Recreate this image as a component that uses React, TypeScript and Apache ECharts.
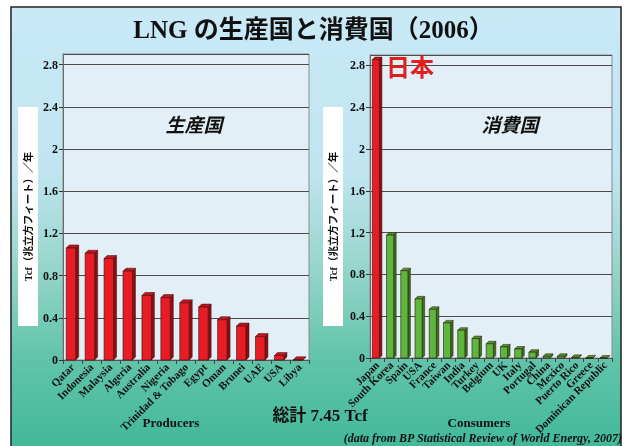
import React, { useEffect, useRef } from "react";
import * as echarts from "echarts";

// LNG exporters and importers, 2006 (Tcf per year)
const PRODUCERS = [
  "Qatar", "Indonesia", "Malaysia", "Algeria", "Australia", "Nigeria",
  "Trinidad & Tobago", "Egypt", "Oman", "Brunei", "UAE", "USA", "Libya",
];
const PRODUCER_VALUES = [1.09, 1.04, 0.99, 0.87, 0.64, 0.62, 0.57, 0.53, 0.41, 0.35, 0.25, 0.07, 0.03];

const CONSUMERS = [
  "Japan", "South Korea", "Spain", "USA", "France", "Taiwan", "India", "Turkey",
  "Belgium", "UK", "Italy", "Portugal", "China", "Mexico", "Puerto Rico", "Greece",
  "Dominican Republic",
];
const CONSUMER_VALUES = [2.88, 1.2, 0.86, 0.59, 0.49, 0.36, 0.29, 0.21, 0.16, 0.13, 0.11, 0.08, 0.04, 0.04, 0.03, 0.02, 0.015];

const Y_MIN = 0;
const Y_MAX = 2.9;
const Y_STEP = 0.4;
const HIGHLIGHT = "Japan";

const TITLE = "LNG の生産国と消費国（2006）";
const Y_NAME = "Tcf（兆立方フィート）／年";
const TOTAL_TEXT = "総計 7.45 Tcf";
const SOURCE_TEXT = "(data from BP Statistical Review of World Energy, 2007)";

const SERIF = "'Liberation Serif', 'Noto Sans CJK JP', serif";
const GOTHIC = "'Noto Sans CJK JP', 'Noto Sans', sans-serif";

const RED = { front: "#e81c24", side: "#8e0e12", top: "#c4161c" };
const GREEN = { front: "#5cb83c", side: "#2e7a1e", top: "#4a9c30" };

// Column with a small oblique depth; its back-top edge sits at the value
function make3dBar(categories: string[], palette: typeof RED, widthRatio: number, depth: number) {
  return (params: any, api: any) => {
    const idx = api.value(0);
    const val = api.value(1);
    const top = api.coord([idx, val]);
    const base = api.coord([idx, 0]);
    const bw = api.size([1, 0])[0] * widthRatio;
    const c = categories[idx] === HIGHLIGHT ? RED : palette;
    const x0 = top[0] - bw / 2 - depth / 2;
    const x1 = x0 + bw;
    const yFront = Math.min(top[1] + depth, base[1]);
    const yBack = yFront - depth;
    const yBase = base[1];
    const stroke = "#3a0a0a";
    return {
      type: "group",
      children: [
        {
          type: "polygon",
          shape: { points: [[x1, yFront], [x1 + depth, yBack], [x1 + depth, yBase - depth], [x1, yBase]] },
          style: { fill: c.side, stroke, lineWidth: 0.5 },
        },
        {
          type: "polygon",
          shape: { points: [[x0, yFront], [x0 + depth, yBack], [x1 + depth, yBack], [x1, yFront]] },
          style: { fill: c.top, stroke, lineWidth: 0.5 },
        },
        {
          type: "rect",
          shape: { x: x0, y: yFront, width: bw, height: yBase - yFront },
          style: { fill: c.front, stroke, lineWidth: 0.6 },
        },
      ],
    };
  };
}

function valueAxis(gridIndex: number) {
  return {
    gridIndex,
    type: "value",
    min: Y_MIN,
    max: Y_MAX,
    interval: Y_STEP,
    axisLine: { show: true, lineStyle: { color: "#6a6a6a", width: 1 } },
    axisTick: { show: true, length: 4, lineStyle: { color: "#333" } },
    axisLabel: {
      showMaxLabel: false,
      margin: 5,
      color: "#111",
      fontFamily: SERIF,
      fontWeight: "bold",
      fontSize: 12,
      formatter: (v: number) => String(+v.toFixed(1)),
    },
    splitLine: { show: true, lineStyle: { color: "#4c4c4c", width: 1 } },
  };
}

function categoryAxis(gridIndex: number, data: string[]) {
  return {
    gridIndex,
    type: "category",
    data,
    axisLine: { show: true, lineStyle: { color: "#555", width: 1 } },
    axisTick: { show: true, length: 4, lineStyle: { color: "#444" } },
    axisLabel: {
      interval: 0,
      rotate: 45,
      margin: 5,
      color: "#111",
      fontFamily: SERIF,
      fontWeight: "bold",
      fontSize: 11,
    },
    splitLine: { show: false },
  };
}

function yNameBox(x: number) {
  return [
    { type: "rect", shape: { x, y: 107, width: 20, height: 219 }, style: { fill: "#ffffff" }, z: 1 },
    {
      type: "text",
      x: x + 10,
      y: 216.5,
      rotation: Math.PI / 2,
      z: 2,
      style: {
        text: Y_NAME,
        fontFamily: SERIF,
        fontWeight: "bold",
        fontSize: 10.5,
        fill: "#111",
        align: "center",
        verticalAlign: "middle",
      },
    },
  ];
}

function label(text: string, x: number, y: number, style: any) {
  return {
    type: "text",
    x,
    y,
    z: 5,
    style: { text, fill: "#111", align: "center", verticalAlign: "middle", fontWeight: "bold", ...style },
  };
}

export default function App() {
  const ref = useRef<HTMLDivElement>(null);

  useEffect(() => {
    if (!ref.current) return;
    const chart = echarts.init(ref.current, null, { renderer: "svg" });

    const option: any = {
      animation: false,
      textStyle: { fontFamily: SERIF },
      title: {
        text: TITLE,
        left: "center",
        top: 12,
        textStyle: { fontFamily: SERIF, fontWeight: "bold", fontSize: 25, color: "#111" },
      },
      graphic: [
        {
          type: "rect",
          z: -100,
          shape: { x: 11, y: 7, width: 610, height: 460 },
          style: {
            fill: new echarts.graphic.LinearGradient(0, 0, 0, 1, [
              { offset: 0, color: "#c9e9f7" },
              { offset: 0.36, color: "#c0e5f0" },
              { offset: 0.56, color: "#98d6cc" },
              { offset: 0.76, color: "#62c4aa" },
              { offset: 1, color: "#3bb695" },
            ]),
            stroke: "#222",
            lineWidth: 1.5,
          },
        },
        ...yNameBox(18),
        ...yNameBox(323),
        label("生産国", 194, 123, { fontFamily: GOTHIC, fontStyle: "italic", fontSize: 19 }),
        label("消費国", 510, 123, { fontFamily: GOTHIC, fontStyle: "italic", fontSize: 19 }),
        label("日本", 386, 65, { fontFamily: GOTHIC, fontSize: 24, fill: "#e02020", align: "left" }),
        label("Producers", 171, 422, { fontFamily: SERIF, fontSize: 13 }),
        label("Consumers", 479, 422, { fontFamily: SERIF, fontSize: 13 }),
        label(TOTAL_TEXT, 320, 415, { fontFamily: SERIF, fontSize: 17 }),
        label(SOURCE_TEXT, 622, 438, { fontFamily: SERIF, fontStyle: "italic", fontSize: 12, align: "right" }),
      ],
      grid: [
        { left: 63, top: 54, width: 246, height: 306, show: true, backgroundColor: "#e2eff6", borderColor: "#8c8c8c", borderWidth: 1 },
        { left: 370, top: 55, width: 242, height: 303, show: true, backgroundColor: "#e2eff6", borderColor: "#8c8c8c", borderWidth: 1 },
      ],
      xAxis: [categoryAxis(0, PRODUCERS), categoryAxis(1, CONSUMERS)],
      yAxis: [valueAxis(0), valueAxis(1)],
      series: [
        {
          type: "custom",
          xAxisIndex: 0,
          yAxisIndex: 0,
          renderItem: make3dBar(PRODUCERS, RED, 0.5, 3),
          encode: { x: 0, y: 1 },
          data: PRODUCER_VALUES.map((v, i) => [i, v]),
        },
        {
          type: "custom",
          xAxisIndex: 1,
          yAxisIndex: 1,
          renderItem: make3dBar(CONSUMERS, GREEN, 0.5, 2.5),
          encode: { x: 0, y: 1 },
          data: CONSUMER_VALUES.map((v, i) => [i, v]),
        },
      ],
    };

    chart.setOption(option);
    return () => chart.dispose();
  }, []);

  return (
    <div
      ref={ref}
      style={{ position: "fixed", left: 0, top: 0, width: 627, height: 446 }}
    />
  );
}
